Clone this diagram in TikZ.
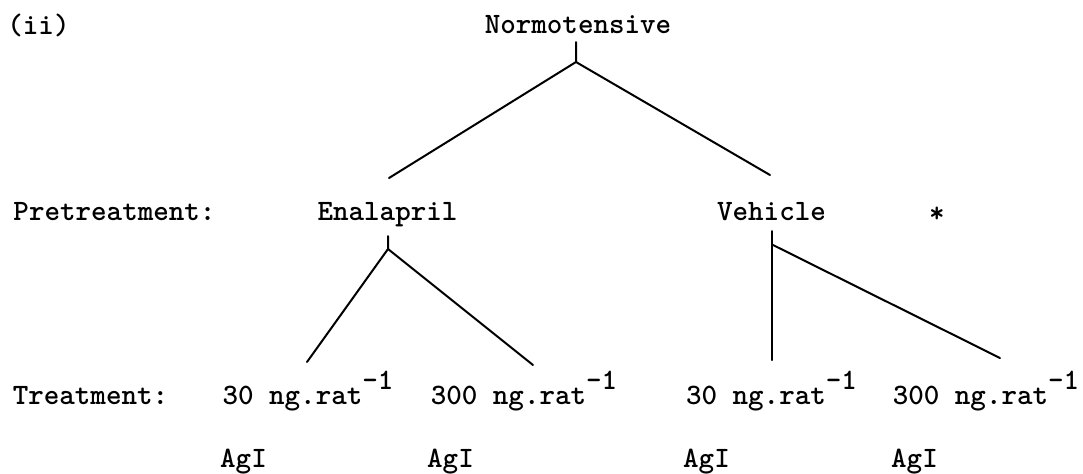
\documentclass[tikz,border=0pt]{standalone}
\newcommand{\dosetext}[1]{#1 ng.rat\raisebox{7.5pt}{-1}}
\begin{document}
\begin{tikzpicture}[x=0.5pt, y=-0.5pt, line width=1pt, line join=round, line cap=round,
    lbl/.style={font=\ttfamily\bfseries\fontsize{14.8}{16}\selectfont, inner sep=0pt, anchor=base}]
    \useasboundingbox (0,0) rectangle (1083,473);

    % headings
    \node[lbl] (part) at (38.5,34) {(ii)};
    \node[lbl] (norm) at (578,33) {Normotensive};
    \node[lbl] (pre) at (114.5,220) {Pretreatment:};
    \node[lbl] (enal) at (387.5,220) {Enalapril};
    \node[lbl] (veh) at (771.5,220) {Vehicle};
    \node[lbl] (star) at (937,222) {*};
    \node[lbl] (treat) at (90.5,404) {Treatment:};

    % doses
    \node[lbl] (e30) at (308,404) {\dosetext{30}};
    \node[lbl] (e300) at (524,404) {\dosetext{300}};
    \node[lbl] (v30) at (771.5,404) {\dosetext{30}};
    \node[lbl] (v300) at (986,404) {\dosetext{300}};

    % AgI under each dose
    \node[lbl] (agA) at (243.5,467) {AgI};
    \node[lbl] (agB) at (450.5,467) {AgI};
    \node[lbl] (agC) at (706.5,467) {AgI};
    \node[lbl] (agD) at (914.5,467) {AgI};

    % branch points
    \coordinate (nTop) at (576,42);
    \coordinate (nJ) at (576,62);
    \coordinate (nL) at (389,178);
    \coordinate (nR) at (770,175);
    \coordinate (eTop) at (388,236);
    \coordinate (eJ) at (388,249);
    \coordinate (eL) at (307,362);
    \coordinate (eR) at (533,365);
    \coordinate (vTop) at (772,231);
    \coordinate (vJ) at (773,245);
    \coordinate (vL) at (772,360);
    \coordinate (vR) at (1000,358);

    % tree lines
    \draw (nTop) -- (nJ) -- (nL);
    \draw (nJ) -- (nR);
    \draw (eTop) -- (eJ) -- (eL);
    \draw (eJ) -- (eR);
    \draw (vTop) -- (vL);
    \draw (vJ) -- (vR);
\end{tikzpicture}
\end{document}
